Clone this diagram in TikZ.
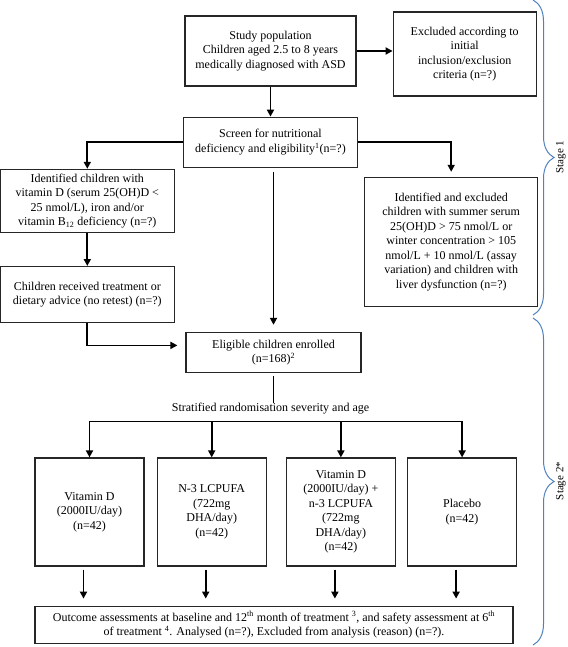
\documentclass[tikz,border=0pt]{standalone}
\usepackage{fontspec}
\setmainfont{Liberation Serif}
\usepackage{tikz}
\usetikzlibrary{arrows.meta,positioning,calc,decorations.pathreplacing}
\usepackage{xcolor}
\definecolor{bracecol}{RGB}{79,129,189}

\begin{document}
\begin{tikzpicture}[
  x=1pt, y=-1pt,
  font=\fontsize{12}{14.5}\selectfont,
  box/.style={rectangle, draw=black!85, line width=1.2pt, align=center,
              inner sep=1pt, fill=white},
  armbox/.style={box, minimum width=109pt, minimum height=108pt},
  arr/.style={-{Triangle[length=7pt,width=7pt]}, line width=1.8pt},
  link/.style={line width=1.8pt},
  brc/.style={decorate, decoration={brace, amplitude=21pt},
              draw=bracecol, line width=1pt},
  stagelbl/.style={rotate=90, font=\fontsize{11}{13}\selectfont}
]
\useasboundingbox (0,0) rectangle (567,647);

%% Stage 1 boxes
\node[box, minimum width=171pt, minimum height=70pt] (study) at (270.5,51)
  {Study population\\Children aged 2.5 to 8 years\\medically diagnosed with ASD};
\node[box, minimum width=143pt, minimum height=84pt, right=36pt of study,
      yshift=-3pt] (excl)
  {Excluded according to\\initial\\inclusion/exclusion\\criteria (n=?)};
\node[box, minimum width=174pt, minimum height=50pt, below=30pt of study]
  (screen)
  {Screen for nutritional\\deficiency and eligibility\textsuperscript{1}(n=?)};
\node[box, minimum width=174pt, minimum height=63pt,
      below left=1pt and 8pt of screen.south west] (defic)
  {Identified children with\\vitamin D (serum 25(OH)D <\\25 nmol/L), iron and/or\\
   vitamin B\textsubscript{12} deficiency (n=?)};
\node[box, minimum width=174pt, minimum height=56pt, below=33pt of defic]
  (treat)
  {Children received treatment or\\dietary advice (no retest) (n=?)};
\node[box, minimum width=173pt, minimum height=129pt,
      below right=9pt and 6pt of screen.south east] (noneli)
  {Identified and excluded\\children with summer serum\\25(OH)D > 75 nmol/L or\\
   winter concentration > 105\\nmol/L + 10 nmol/L (assay\\
   variation) and children with\\liver dysfunction (n=?)};

%% Stage 2
\node[box, minimum width=175pt, minimum height=40pt, below=164pt of screen,
      xshift=3pt] (enrol)
  {Eligible children enrolled\\(n=168)\textsuperscript{2}};
\node[inner sep=0pt, below=30pt of enrol, xshift=-3pt] (strat)
  {Stratified randomisation severity and age};
\coordinate[below=7pt of strat] (split);

\node[armbox] (arm1) at (89.5,512)
  {Vitamin D\\(2000IU/day)\\(n=42)};
\node[armbox, right=12pt of arm1] (arm2)
  {N-3 LCPUFA\\(722mg\\DHA/day)\\(n=42)};
\node[armbox, right=19pt of arm2] (arm3)
  {Vitamin D\\(2000IU/day) +\\n-3 LCPUFA\\(722mg\\DHA/day)\\(n=42)};
\node[armbox, right=11pt of arm3] (arm4)
  {Placebo\\(n=42)};

\node[box, minimum width=478pt, minimum height=37pt,
      below=39pt of arm1.south west, anchor=north west] (outc)
  {Outcome assessments at baseline and 12\textsuperscript{th} month of
   treatment \textsuperscript{3}, and safety assessment at
   6\textsuperscript{th}\\of treatment \textsuperscript{4}. Analysed (n=?),
   Excluded from analysis (reason) (n=?).};

%% Arrows in stage 1
\draw[arr] (study.east) -- (study.east -| excl.west);
\draw[arr] (study) -- (screen);
\draw[arr] (screen.west) -| (defic.north);
\draw[arr, shorten >=5pt] (screen.east) -| (noneli.north);
\draw[arr] (defic) -- (treat);
\draw[arr, shorten <=4pt, shorten >=7pt] (screen.south -| enrol.north)
  -- (enrol.north);
\draw[arr, shorten >=8pt] (treat.south) |- ([yshift=7pt]enrol.west);

%% Randomisation
\draw[link, shorten <=3pt] (enrol.south) -- (enrol.south |- strat.north);
\draw[link] (arm1.north |- split) -- (arm4.north |- split);
\foreach \a in {1,...,4}
  \draw[arr] (arm\a.north |- split) -- (arm\a.north);
\foreach \a in {1,...,4}
  \draw[arr, shorten <=3pt, shorten >=7pt] ([xshift=-6pt]arm\a.south)
    -- ([xshift=-6pt]arm\a.south |- outc.north);

%% Stage braces
\draw[brc] (533,0) -- (533,315);
\draw[brc] (533,318) -- (533,645);
\node[stagelbl] (stg1) at (561,157) {Stage 1};
\node[stagelbl] (stg2) at (561,481) {Stage 2*};

\end{tikzpicture}
\end{document}
